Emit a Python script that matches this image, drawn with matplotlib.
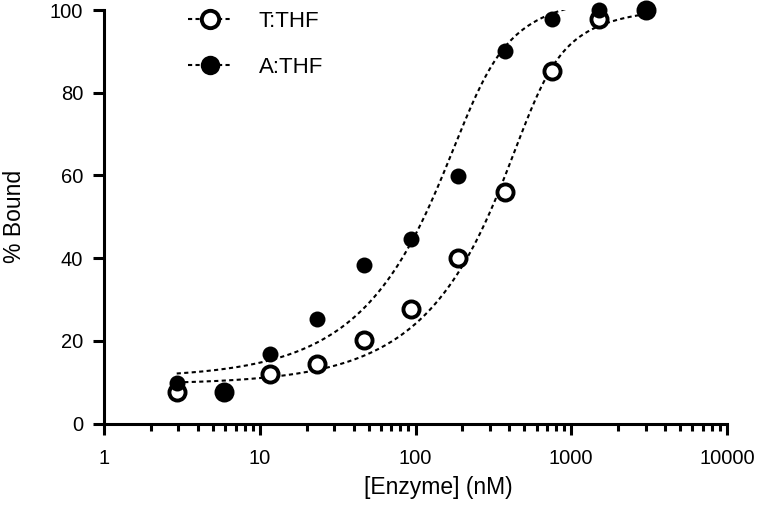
import numpy as np
import matplotlib
matplotlib.use("Agg")
import matplotlib.pyplot as plt
from matplotlib.ticker import FixedLocator, NullFormatter, LogLocator

plt.rcParams["font.family"] = ["Liberation Sans", "DejaVu Sans"]

# 两倍稀释的酶浓度 (nM)
enzyme = [2.93, 5.86, 11.7, 23.4, 46.9, 93.75, 187.5, 375, 750, 1500, 3000]
bound_t = [7.7, 7.6, 11.9, 14.5, 20.2, 27.8, 40.1, 56.0, 85.2, 97.8, 100.0]
bound_a = [9.9, 7.7, 16.9, 25.2, 38.3, 44.6, 59.9, 90.2, 97.8, 100.0, 100.0]
labels = ["T:THF", "A:THF"]
x_ticks = [1, 10, 100, 1000, 10000]
y_ticks = [0, 20, 40, 60, 80, 100]

# 拟合曲线参数 (bottom, top, D, Kd)
fit_t = (9.5, 101.0, 560.0, 55.0)
fit_a = (11.0, 104.0, 220.0, 30.0)


def curve(x, b, t, d, k):
    """二次结合方程"""
    s = x + d + k
    frac = (s - np.sqrt(s * s - 4.0 * x * d)) / (2.0 * d)
    return b + (t - b) * frac


fig = plt.figure(figsize=(7.6, 5.2), dpi=100)
ax = fig.add_axes([104 / 760, 1 - 423.5 / 520, 623 / 760, 413.5 / 520])

xs = np.logspace(np.log10(enzyme[0]), np.log10(enzyme[-1]), 300)
dash = (0, (2.0, 1.6))
for p in (fit_t, fit_a):
    ax.plot(xs, curve(xs, *p), color="black", lw=1.5, linestyle=dash, zorder=2)

ax.plot(enzyme, bound_t, "o", ms=11.6, mfc="white", mec="black", mew=2.8,
        zorder=3, clip_on=False)
ax.plot(enzyme, bound_a, "o", ms=11.5, mfc="black", mec="black", mew=0,
        zorder=4, clip_on=False)

# 图例句柄
h1, = ax.plot([], [], color="black", lw=1.5, linestyle=dash, marker="o",
              ms=12.5, mfc="white", mec="black", mew=2.8)
h2, = ax.plot([], [], color="black", lw=1.5, linestyle=dash, marker="o",
              ms=14, mfc="black", mec="black", mew=0)
ax.legend([h1, h2], labels, loc="upper left", bbox_to_anchor=(0.135, 0.997),
          frameon=False, fontsize=16, handlelength=2.0, handletextpad=1.17,
          labelspacing=1.1, numpoints=1, borderpad=0, borderaxespad=0)

ax.set_xscale("log")
ax.set_xlim(1, 10000)
ax.set_ylim(0, 100)
ax.xaxis.set_major_locator(FixedLocator(x_ticks))
ax.set_xticklabels([str(v) for v in x_ticks])
ax.xaxis.set_minor_locator(LogLocator(base=10, subs=np.arange(2, 10)))
ax.xaxis.set_minor_formatter(NullFormatter())
ax.set_yticks(y_ticks)

for s in ("top", "right"):
    ax.spines[s].set_visible(False)
for s in ("left", "bottom"):
    ax.spines[s].set_linewidth(2.2)
    ax.spines[s].set_capstyle("projecting")
ax.tick_params(which="major", length=8, width=2.2, labelsize=14.5)
ax.tick_params(axis="x", which="major", pad=10)
ax.tick_params(axis="y", which="major", pad=7)
ax.tick_params(which="minor", length=5, width=2.2)

ax.set_xlabel("[Enzyme] (nM)", fontsize=16.5)
ax.set_ylabel("% Bound", fontsize=16.5)
ax.xaxis.set_label_coords(0.536, -0.128)
ax.yaxis.set_label_coords(-0.125, 0.5)

fig.savefig("out.png", dpi=100)
